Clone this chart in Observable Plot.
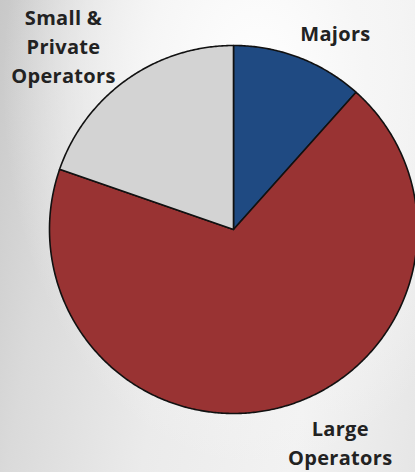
<!DOCTYPE html>
<html>
<head>
<meta charset="utf-8">
<script src="https://cdn.jsdelivr.net/npm/d3@7"></script>
<script src="https://cdn.jsdelivr.net/npm/@observablehq/plot@0.6"></script>
<style>
  html, body { margin: 0; padding: 0; }
  body {
    width: 415px; height: 472px; overflow: hidden;
    background:
      radial-gradient(ellipse at 62% 18%, #ffffff 0%, #f6f6f6 30%, rgba(230,230,230,0) 70%),
      linear-gradient(100deg, #c8c8c8 0%, #dadada 18%, #ebebeb 45%, #f2f2f2 75%, #e6e6e6 100%);
  }
  svg { display: block; }
  svg text { letter-spacing: 0.3px; }
</style>
</head>
<body>
<div id="chart"></div>
<script>
// Data
const categories = ["Majors", "Large Operators", "Small & Private Operators"];
const shares = [11.6, 68.7, 19.7];
const colors = ["#1f4a82", "#993333", "#d3d3d3"];
const labelTexts = ["Majors", "Large\nOperators", "Small &\nPrivate\nOperators"];
// label anchor positions in the pie's unit coordinates (radius = 1)
const labelX = [0.554, 0.58, -0.924];
const labelY = [1.076, -1.152, 1.005];

// Build slice polygons from the shares (clockwise from 12 o'clock)
const pie = d3.pie().sort(null).value(d => d)(shares);
const pts = [];
pie.forEach((p, i) => {
  const name = categories[i];
  pts.push({name, x: 0, y: 0});
  const n = Math.max(2, Math.ceil((p.endAngle - p.startAngle) / (Math.PI / 360)));
  for (let k = 0; k <= n; k++) {
    const a = p.startAngle + (p.endAngle - p.startAngle) * k / n;
    pts.push({name, x: Math.sin(a), y: Math.cos(a)});
  }
  pts.push({name, x: 0, y: 0});
});

const labels = labelTexts.map((text, i) => ({text, x: labelX[i], y: labelY[i]}));

const cx = 233, cy = 229, R = 184;
const chart = Plot.plot({
  width: 415,
  height: 472,
  margin: 0,
  style: {background: "transparent"},
  x: {domain: [-1, 1], range: [cx - R, cx + R], axis: null},
  y: {domain: [-1, 1], range: [cy + R, cy - R], axis: null},
  color: {domain: categories, range: colors},
  marks: [
    Plot.line(pts, {x: "x", y: "y", z: "name", fill: "name", stroke: "#111", strokeWidth: 1.6, strokeLinejoin: "round", curve: "linear"}),
    Plot.text(labels, {
      x: "x", y: "y", text: "text",
      fontSize: 20, fontWeight: "bold", fill: "#222",
      fontFamily: "Open Sans",
      lineHeight: 1.45,
      lineAnchor: "middle",
      textAnchor: "middle"
    })
  ]
});
document.getElementById("chart").appendChild(chart);
</script>
</body>
</html>
